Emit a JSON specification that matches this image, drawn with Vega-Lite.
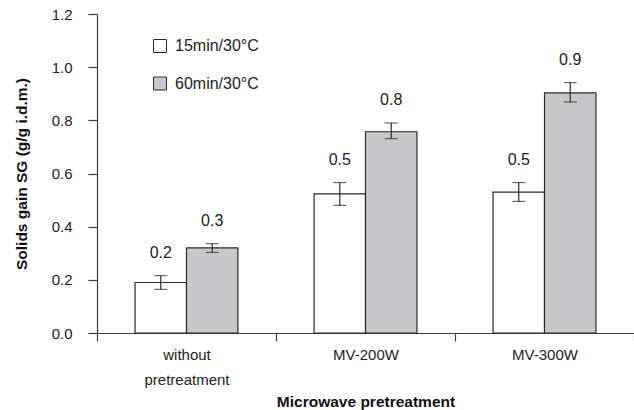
{
  "$schema": "https://vega.github.io/schema/vega-lite/v6.json",
  "width": 537,
  "height": 319,
  "autosize": {"type": "none"},
  "padding": {"left": 97, "top": 14, "right": 0, "bottom": 77},
  "background": "white",
  "config": {
    "view": {"stroke": null},
    "font": "Liberation Sans",
    "axis": {"grid": false, "domainColor": "#3a3a3a", "tickColor": "#3a3a3a", "labelColor": "#222", "titleColor": "#111", "labelFont": "Liberation Sans", "titleFont": "Liberation Sans", "labelFontSize": 15, "titleFontSize": 15.5, "titleFontWeight": "bold", "domainWidth": 1.2, "tickWidth": 1.2}
  },
  "data": {
    "values": [
      {"group": "without pretreatment", "series": "15min/30°C", "value": 0.19, "lower": 0.164, "upper": 0.216, "label": "0.2"},
      {"group": "without pretreatment", "series": "60min/30°C", "value": 0.32, "lower": 0.303, "upper": 0.336, "label": "0.3"},
      {"group": "MV-200W", "series": "15min/30°C", "value": 0.523, "lower": 0.48, "upper": 0.566, "label": "0.5"},
      {"group": "MV-200W", "series": "60min/30°C", "value": 0.757, "lower": 0.731, "upper": 0.79, "label": "0.8"},
      {"group": "MV-300W", "series": "15min/30°C", "value": 0.53, "lower": 0.495, "upper": 0.566, "label": "0.5"},
      {"group": "MV-300W", "series": "60min/30°C", "value": 0.903, "lower": 0.869, "upper": 0.942, "label": "0.9"}
    ]
  },
  "encoding": {
    "x": {"field": "group", "type": "nominal", "sort": ["without pretreatment", "MV-200W", "MV-300W"], "scale": {"paddingInner": 0, "paddingOuter": 0},
      "axis": {"title": "Microwave pretreatment", "labelAngle": 0, "tickBand": "extent", "tickSize": 8, "labelPadding": 6, "labelLineHeight": 25, "titlePadding": 7,
        "labelExpr": "datum.label == 'without pretreatment' ? ['without', 'pretreatment'] : datum.label"}},
    "xOffset": {"field": "series", "type": "nominal", "scale": {"paddingInner": 0, "paddingOuter": 0.74}}
  },
  "layer": [
    {
      "mark": {"type": "bar", "stroke": "#2a2a2a", "strokeWidth": 1.2},
      "encoding": {
        "y": {"field": "value", "type": "quantitative", "scale": {"domain": [0, 1.2]},
          "axis": {"title": "Solids gain SG (g/g i.d.m.)", "values": [0, 0.2, 0.4, 0.6, 0.8, 1.0, 1.2], "format": ".1f", "tickSize": 9, "labelPadding": 16, "titlePadding": 22}},
        "fill": {"field": "series", "type": "nominal", "scale": {"domain": ["15min/30°C", "60min/30°C"], "range": ["#ffffff", "#c8c8ca"]},
          "legend": {"title": null, "orient": "none", "legendX": 55, "legendY": 24, "symbolType": "square", "symbolSize": 169, "symbolStrokeColor": "#2a2a2a", "symbolStrokeWidth": 1, "symbolOpacity": 1, "labelFontSize": 16, "labelColor": "#222", "labelFont": "Liberation Sans", "rowPadding": 19.5, "labelOffset": 7}}
      }
    },
    {
      "mark": {"type": "rule", "color": "#2a2a2a", "strokeWidth": 1.2},
      "encoding": {"y": {"field": "lower", "type": "quantitative"}, "y2": {"field": "upper"}}
    },
    {
      "mark": {"type": "tick", "color": "#2a2a2a", "size": 13, "thickness": 1.2},
      "encoding": {"y": {"field": "lower", "type": "quantitative"}}
    },
    {
      "mark": {"type": "tick", "color": "#2a2a2a", "size": 13, "thickness": 1.2},
      "encoding": {"y": {"field": "upper", "type": "quantitative"}}
    },
    {
      "mark": {"type": "text", "dy": -23, "fontSize": 16, "color": "#222", "font": "Liberation Sans", "baseline": "middle"},
      "encoding": {"y": {"field": "upper", "type": "quantitative"}, "text": {"field": "label"}}
    }
  ]
}
